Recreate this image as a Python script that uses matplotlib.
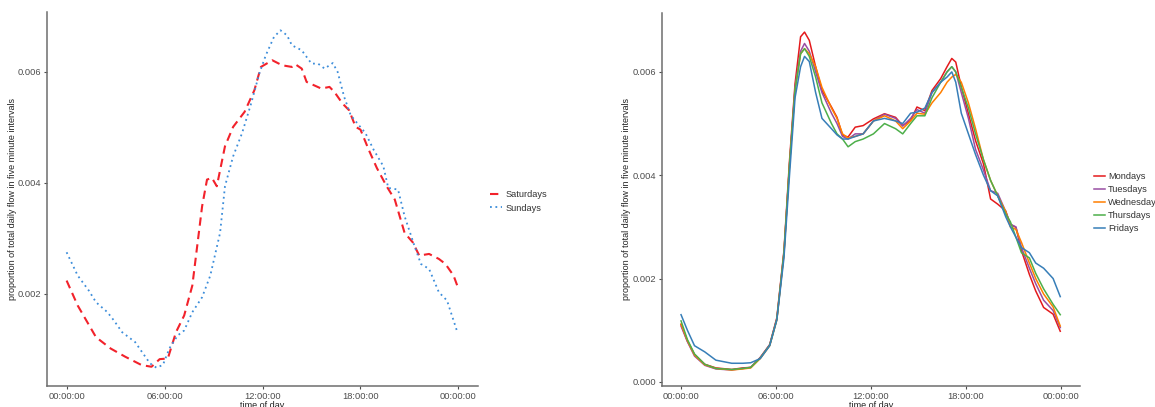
import numpy as np
import matplotlib
matplotlib.use("Agg")
import matplotlib.pyplot as plt

plt.rcParams['font.family'] = ['Liberation Sans', 'DejaVu Sans']

# weekend profiles: hour of day -> share of daily flow per 5-minute interval
sat_hours = [0, 0.68, 1.8, 2.7, 3.6, 4.6, 5.2, 5.7, 6.2, 6.7, 7.2, 7.7, 8.3, 8.6,
             8.9, 9.2, 9.7, 10.2, 10.9, 11.5, 11.9, 12.6, 13.2, 13.8, 14.0, 14.4,
             14.7, 15.6, 16.1, 16.4, 16.9, 17.3, 17.7, 18.0, 18.5, 19.0, 19.6,
             20.1, 20.7, 21.2, 21.6, 22.2, 22.8, 23.2, 23.7, 24.0]
saturdays = [0.00224, 0.00179, 0.00122, 0.001015, 0.000866, 0.000716, 0.000687,
             0.000824, 0.000836, 0.00131, 0.00161, 0.00215, 0.00358, 0.00406,
             0.00409, 0.00394, 0.00466, 0.00501, 0.00528, 0.00567, 0.00609,
             0.00621, 0.00612, 0.00609, 0.00614, 0.00606, 0.00582, 0.00570,
             0.00573, 0.00564, 0.00543, 0.00531, 0.00501, 0.00496, 0.00460,
             0.00427, 0.00394, 0.00370, 0.00310, 0.00293, 0.00269, 0.00272,
             0.00263, 0.00254, 0.00233, 0.00209]

sun_hours = [0, 0.68, 1.36, 1.8, 2.5, 2.9, 3.4, 4.2, 4.6, 5.1, 5.5, 5.9, 6.3, 6.8,
             7.2, 7.7, 8.3, 8.8, 9.4, 9.7, 10.2, 10.75, 11.3, 11.8, 12.2, 12.7,
             13.1, 13.5, 13.8, 14.4, 15.0, 15.4, 15.8, 16.3, 16.6, 17.0, 17.4,
             17.9, 18.3, 18.8, 19.4, 19.7, 20.3, 20.7, 21.3, 21.7, 22.2, 22.8,
             23.3, 23.9]
sundays = [0.00275, 0.00233, 0.00206, 0.00185, 0.00167, 0.00152, 0.00131,
           0.00113, 0.00096, 0.00075, 0.00067, 0.00072, 0.00102, 0.00125,
           0.00134, 0.00167, 0.00194, 0.00233, 0.00310, 0.00394, 0.00448,
           0.00490, 0.00543, 0.00597, 0.00630, 0.00663, 0.00675, 0.00666,
           0.00648, 0.00639, 0.00615, 0.00615, 0.00606, 0.00616, 0.00600,
           0.00555, 0.00522, 0.00504, 0.00490, 0.00460, 0.00430, 0.00391,
           0.00388, 0.00340, 0.00287, 0.00254, 0.00245, 0.00203, 0.00188,
           0.00134]

# weekday profiles share one set of hours
wk_hours = [0, 0.4, 0.85, 1.5, 2.2, 3.2, 3.9, 4.4, 5.0, 5.6, 6.05, 6.5, 6.85, 7.2,
            7.55, 7.8, 8.1, 8.5, 8.9, 9.5, 9.85, 10.2, 10.55, 11.0, 11.5, 12.15,
            12.85, 13.55, 14.0, 14.5, 14.9, 15.4, 15.85, 16.4, 16.8, 17.1, 17.35,
            17.7, 18.15, 18.6, 19.1, 19.55, 20.0, 20.5, 20.8, 21.15, 21.5, 22.0,
            22.4, 22.9, 23.5, 23.95]
mondays = [0.00111, 0.00079, 0.00053, 0.00034, 0.00027,
           0.00024, 0.00027, 0.00028, 0.00047, 0.00072,
           0.00124, 0.00254, 0.00428, 0.00577, 0.00668,
           0.00677, 0.00661, 0.00610, 0.00564, 0.00532,
           0.00512, 0.00477, 0.00474, 0.00493, 0.00496,
           0.00509, 0.00519, 0.00512, 0.00496, 0.00506,
           0.00532, 0.00525, 0.00564, 0.00587, 0.00610,
           0.00626, 0.00619, 0.00571, 0.00519, 0.00467,
           0.00422, 0.00354, 0.00344, 0.00331, 0.00305,
           0.00299, 0.00254, 0.00208, 0.00176, 0.00144,
           0.00131, 0.00098]
tuesdays = [0.00108, 0.00078, 0.00050, 0.00032, 0.00025,
            0.00023, 0.00026, 0.00028, 0.00047, 0.00072,
            0.00122, 0.00250, 0.00420, 0.00570, 0.00640,
            0.00655, 0.00640, 0.00600, 0.00560, 0.00520,
            0.00500, 0.00475, 0.00470, 0.00480, 0.00480,
            0.00505, 0.00518, 0.00510, 0.00495, 0.00510,
            0.00527, 0.00520, 0.00560, 0.00580, 0.00600,
            0.00610, 0.00600, 0.00560, 0.00510, 0.00450,
            0.00410, 0.00370, 0.00365, 0.00330, 0.00305,
            0.00300, 0.00260, 0.00220, 0.00190, 0.00158,
            0.00138, 0.00105]
wednesdays = [0.00112, 0.00080, 0.00052, 0.00033, 0.00026,
              0.00023, 0.00025, 0.00027, 0.00045, 0.00070,
              0.00120, 0.00248, 0.00420, 0.00565, 0.00635,
              0.00645, 0.00635, 0.00610, 0.00570, 0.00530,
              0.00510, 0.00480, 0.00472, 0.00475, 0.00480,
              0.00505, 0.00515, 0.00505, 0.00490, 0.00505,
              0.00520, 0.00518, 0.00540, 0.00560, 0.00580,
              0.00590, 0.00595, 0.00580, 0.00540, 0.00490,
              0.00430, 0.00390, 0.00360, 0.00330, 0.00300,
              0.00295, 0.00270, 0.00230, 0.00200, 0.00170,
              0.00145, 0.00108]
thursdays = [0.00118, 0.00082, 0.00054, 0.00034, 0.00026,
             0.00024, 0.00026, 0.00028, 0.00046, 0.00071,
             0.00121, 0.00250, 0.00420, 0.00565, 0.00635,
             0.00645, 0.00630, 0.00590, 0.00540, 0.00500,
             0.00480, 0.00470, 0.00455, 0.00465, 0.00470,
             0.00480, 0.00500, 0.00490, 0.00480, 0.00500,
             0.00515, 0.00515, 0.00550, 0.00580, 0.00600,
             0.00610, 0.00600, 0.00570, 0.00530, 0.00480,
             0.00430, 0.00390, 0.00360, 0.00325, 0.00310,
             0.00280, 0.00250, 0.00240, 0.00210, 0.00180,
             0.00150, 0.00130]
fridays = [0.00130, 0.00100, 0.00070, 0.00058, 0.00042,
           0.00036, 0.00036, 0.00037, 0.00045, 0.00070,
           0.00120, 0.00240, 0.00400, 0.00550, 0.00610,
           0.00630, 0.00620, 0.00560, 0.00510, 0.00490,
           0.00478, 0.00470, 0.00470, 0.00475, 0.00480,
           0.00505, 0.00510, 0.00505, 0.00500, 0.00520,
           0.00522, 0.00530, 0.00560, 0.00580, 0.00590,
           0.00600, 0.00580, 0.00520, 0.00480, 0.00440,
           0.00400, 0.00370, 0.00360, 0.00320, 0.00300,
           0.00280, 0.00260, 0.00250, 0.00230, 0.00220,
           0.00200, 0.00165]

tick_hours = [0, 6, 12, 18, 24]
tick_labels = ['00:00:00', '06:00:00', '12:00:00', '18:00:00', '00:00:00']

weekday_names = ['Mondays', 'Tuesdays', 'Wednesdays', 'Thursdays', 'Fridays']
weekday_series = [mondays, tuesdays, wednesdays, thursdays, fridays]
weekday_colors = ['#E41A1C', '#984EA3', '#FF7F00', '#4DAF4A', '#377EB8']

ylab = 'proportion of total daily flow in five minute intervals'


def style_axes(ax, yticks):
    for side in ['top', 'right']:
        ax.spines[side].set_visible(False)
    for side in ['left', 'bottom']:
        ax.spines[side].set_color('#6e6e6e')
        ax.spines[side].set_linewidth(1.1)
    ax.set_xlim(-1.2, 25.2)
    ax.set_xticks(tick_hours)
    ax.set_xticklabels(tick_labels)
    ax.set_yticks(yticks)
    ax.set_yticklabels(['%.3f' % v for v in yticks])
    ax.tick_params(axis='both', labelsize=6.7, colors='#4d4d4d', length=2.5,
                   width=0.8, pad=1.5)
    ax.set_xlabel('time of day', fontsize=6.5, color='#222222', labelpad=0.5)
    ax.set_ylabel(ylab, fontsize=6.5, color='#222222', labelpad=1)


fig = plt.figure(figsize=(11.55, 4.07), dpi=100)

# weekend panel
ax1 = fig.add_axes([0.0407, 0.0516, 0.3732, 0.9189])
ax1.plot(sat_hours, saturdays, color='#F2222B', lw=1.5, ls=(0, (4, 2.5)),
         label='Saturdays')
ax1.plot(sun_hours, sundays, color='#3C8DDA', lw=1.3, ls=(0, (1, 2)),
         label='Sundays')
ax1.set_ylim(0.00034, 0.00708)
style_axes(ax1, [0.002, 0.004, 0.006])
fig.legend(*ax1.get_legend_handles_labels(), loc='center left',
           bbox_to_anchor=(0.420, 0.505), frameon=False, fontsize=6.7,
           handlelength=1.3, handletextpad=0.4, labelspacing=0.45,
           borderpad=0, labelcolor='#333333')

# weekday panel
ax2 = fig.add_axes([0.5732, 0.0516, 0.3619, 0.9165])
for name, vals, col in zip(weekday_names, weekday_series, weekday_colors):
    ax2.plot(wk_hours, vals, color=col, lw=1.1, label=name)
ax2.set_ylim(-0.00008, 0.00714)
style_axes(ax2, [0.000, 0.002, 0.004, 0.006])
fig.legend(*ax2.get_legend_handles_labels(), loc='center left',
           bbox_to_anchor=(0.943, 0.502), frameon=False, fontsize=6.7,
           handlelength=1.2, handletextpad=0.35, labelspacing=0.42,
           borderpad=0, labelcolor='#333333')

plt.savefig('out.png', dpi=100)
plt.close(fig)
